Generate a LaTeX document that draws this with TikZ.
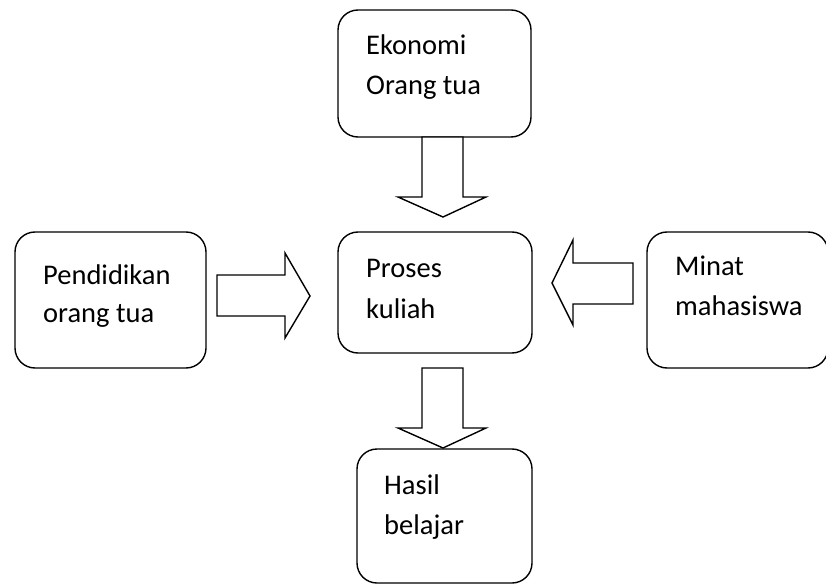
\documentclass[tikz,border=0pt]{standalone}
\usepackage{fontspec}
\setmainfont{Carlito}
\begin{document}
\begin{tikzpicture}[x=1bp,y=-1bp,
  box/.style={draw=black, line width=1.4bp, rounded corners=20bp, inner sep=0pt, fill=white},
  txt/.style={inner sep=0pt, anchor=base west, font=\fontsize{28.5bp}{40bp}\selectfont},
  blockarrow/.style={draw=black, line width=1.4bp, fill=white, line join=miter}]
\useasboundingbox (0,0) rectangle (826,584);
% boxes
\node[box, minimum width=193bp, minimum height=127bp] (eko) at (434.5,73.5) {};
\node[box, minimum width=191bp, minimum height=136bp] (pend) at (110.5,300) {};
\node[box, minimum width=194bp, minimum height=121bp] (pros) at (435,292.5) {};
\node[box, minimum width=181bp, minimum height=136bp] (minat) at (737.5,300) {};
\node[box, minimum width=175bp, minimum height=134bp] (hasil) at (444.5,516) {};
% texts
\node[txt] (eko1) at (366,55) {Ekonomi};
\node[txt] (eko2) at (366,95) {Orang tua};
\node[txt] (pend1) at (43,284) {Pendidikan};
\node[txt] (pend2) at (43,322) {orang tua};
\node[txt] (pros1) at (366,277) {Proses};
\node[txt] (pros2) at (366,318) {kuliah};
\node[txt] (minat1) at (675,275) {Minat};
\node[txt] (minat2) at (675,315) {mahasiswa};
\node[txt] (hasil1) at (384,494) {Hasil};
\node[txt] (hasil2) at (384,534) {belajar};
% block arrows
\draw[blockarrow] (422,137) -- (463,137) -- (463,197) -- (486,197) -- (443,217) -- (398,197) -- (422,197) -- cycle;
\draw[blockarrow] (217,275) -- (285,275) -- (285,253) -- (310,296) -- (285,338) -- (285,316) -- (217,316) -- cycle;
\draw[blockarrow] (633,263) -- (573,263) -- (573,240) -- (552,283) -- (573,325) -- (573,304) -- (633,304) -- cycle;
\draw[blockarrow] (422,368) -- (463,368) -- (463,428) -- (486,428) -- (443,448) -- (398,428) -- (422,428) -- cycle;
\end{tikzpicture}
\end{document}
